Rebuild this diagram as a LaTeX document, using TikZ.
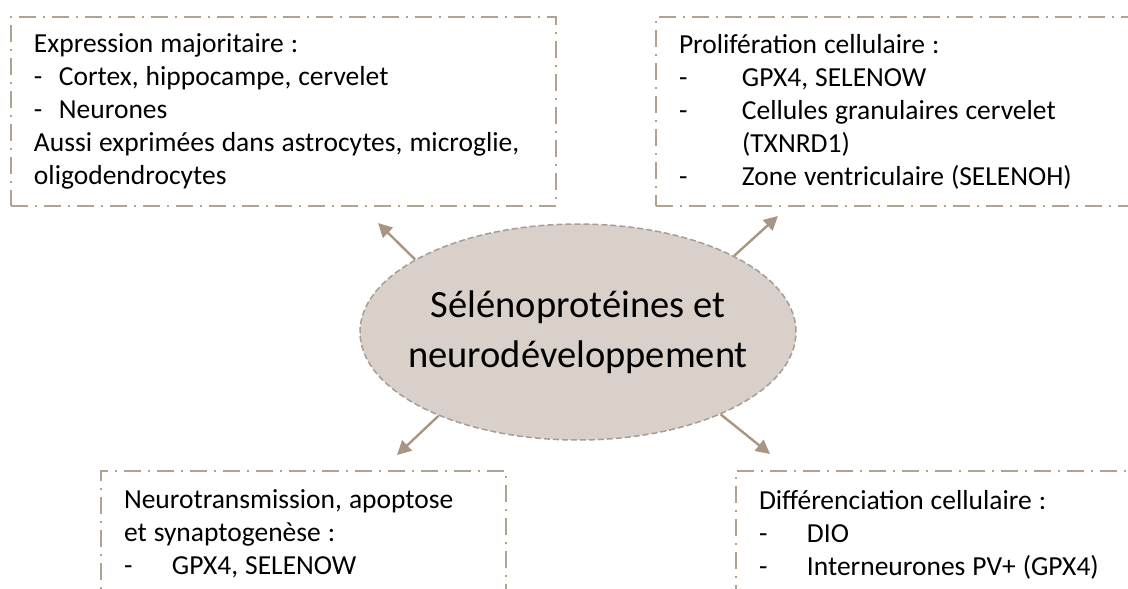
\documentclass[tikz,border=0pt]{standalone}
\usepackage{fontspec}
\setmainfont{Carlito}
\usetikzlibrary{shapes.geometric}
\usetikzlibrary{arrows.meta}
\definecolor{taupe}{HTML}{A89683}
\definecolor{boxline}{HTML}{B2A292}
\definecolor{hubfill}{HTML}{D9D1C9}
\definecolor{hubline}{HTML}{A59D96}
\newcommand{\tiret}[1]{\makebox[#1][l]{-}}
\newcommand{\fixspace}{\frenchspacing\spaceskip=7pt\relax}

\begin{document}
\begin{tikzpicture}[x=1pt, y=-1pt,
    frame/.style={draw=boxline, line width=2pt, dash pattern=on 17pt off 7pt on 2pt off 7pt,
      anchor=north west, align=left, inner xsep=23pt, inner ysep=15pt, text=black,
      font=\fontsize{27.5}{33}\selectfont, execute at begin node=\fixspace},
    hub/.style={ellipse, draw=hubline, fill=hubfill, line width=1.5pt, dash pattern=on 6pt off 3pt,
      minimum width=436pt, minimum height=216pt, inner xsep=-30pt, inner ysep=0pt, align=center,
      text=black, font=\fontsize{38.5}{50}\selectfont},
    arr/.style={draw=taupe, line width=2.4pt, -{Triangle[length=14pt,width=14pt]}}]
  \useasboundingbox (0,0) rectangle (1128,589);
  \clip (0,0) rectangle (1128,589);

  \node[frame, text width=499pt, minimum height=189pt] (expr) at (10,16)
    {Expression majoritaire :\\
     \tiret{25pt}Cortex, hippocampe, cervelet\\
     \tiret{25pt}Neurones\\
     Aussi exprimées dans astrocytes, microglie,\\
     oligodendrocytes};
  \node[frame, text width=480pt, minimum height=189pt] (prolif) at (655,16)
    {Prolifération cellulaire :\\
     \tiret{63pt}GPX4, SELENOW\\
     \tiret{63pt}Cellules granulaires cervelet\\
     \hspace*{63pt}(TXNRD1)\\
     \tiret{63pt}Zone ventriculaire (SELENOH)};
  \node[frame, text width=359pt, text depth=130pt, inner ysep=19pt] (neuro) at (100,470)
    {Neurotransmission, apoptose\\
     et synaptogenèse :\\
     \tiret{48pt}GPX4, SELENOW};
  \node[frame, text width=480pt, text depth=130pt, inner ysep=19pt] (diff) at (735,470)
    {Différenciation cellulaire :\\
     \tiret{48pt}DIO\\
     \tiret{48pt}Interneurones PV+ (GPX4)};

  \node[hub] (core) at (578,332) {Sélénoprotéines et\\neurodéveloppement};

  \coordinate (tipA) at (378,223);
  \coordinate (tipB) at (778,216);
  \coordinate (tipC) at (397,455);
  \coordinate (tipD) at (770,454);
  \draw[arr] (core.156) -- (tipA);
  \draw[arr] (core.26) -- (tipB);
  \draw[arr] (core.211) -- (tipC);
  \draw[arr] (core.330) -- (tipD);
\end{tikzpicture}
\end{document}
